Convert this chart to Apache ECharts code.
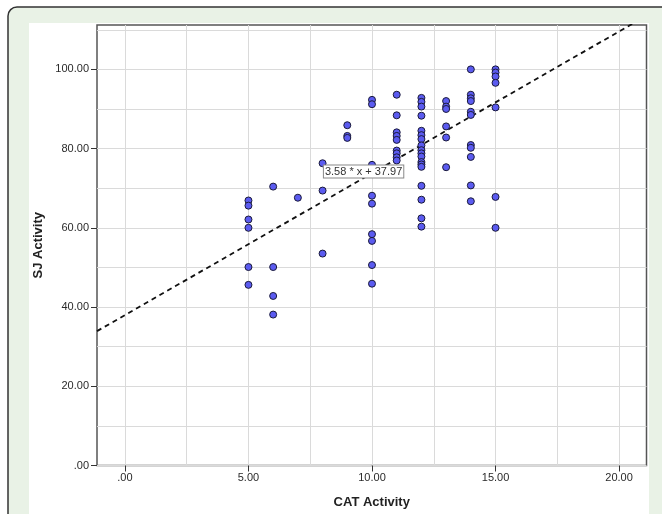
<!DOCTYPE html>
<html>
<head>
<meta charset="utf-8">
<script src="https://cdn.jsdelivr.net/npm/echarts@6/dist/echarts.min.js"></script>
<style>
html,body{margin:0;padding:0;background:#ffffff;}
#chart{width:662px;height:514px;}
</style>
</head>
<body>
<div id="chart"></div>
<script>
// ---- data ----
const catActivity = [
  5,5,5,5,5,5,
  6,6,6,6,
  7,
  8,8,8,
  9,9,9,
  10,10,10,10,10,10,10,10,10,
  11,11,11,11,11,11,11,11,11,
  12,12,12,12,12,12,12,12,12,12,12,12,12,12,12,12,12,12,
  13,13,13,13,13,13,
  14,14,14,14,14,14,14,14,14,14,14,
  15,15,15,15,15,15,15
];
const sjActivity = [
  66.9,65.6,62.1,60.0,50.1,45.6,
  70.4,50.1,42.8,38.1,
  67.6,
  76.3,69.4,53.5,
  85.9,83.2,82.7,
  92.3,91.2,75.9,68.1,66.1,58.4,56.7,50.6,45.9,
  93.6,88.4,84.1,83.2,82.2,79.5,78.8,77.8,77.0,
  92.8,91.8,90.6,88.3,84.5,83.4,82.4,80.8,79.6,78.8,78.0,76.6,76.0,75.4,70.6,67.1,62.4,60.3,
  92.0,90.6,90.0,85.6,82.8,75.3,
  100.0,93.6,92.7,92.0,89.3,88.5,80.9,80.2,77.9,70.7,66.7,
  100.0,99.2,98.2,96.6,90.4,67.8,60.0
];
// fit line end points (as drawn) and its label
const fitLineX = [-1.13, 21.09];
const fitLineY = [33.92, 113.47];
const fitLabel = '3.58 * x + 37.97';
const fitLabelAt = [9.66, 74.2];

// axes
const xRange = [-1.13, 21.11];
const yRange = [0, 111.2];
const xTickValues = [0, 5, 10, 15, 20];
const xGridValues = [0, 2.5, 5, 7.5, 10, 12.5, 15, 17.5, 20];
const yTickValues = [0, 20, 40, 60, 80, 100];
const yGridValues = [0, 10, 20, 30, 40, 50, 60, 70, 80, 90, 100, 110];
const xName = 'CAT Activity';
const yName = 'SJ Activity';

function fmt(v){
  const s = Number(v).toFixed(2);
  return s.indexOf('0.') === 0 ? s.slice(1) : s;
}

const points = catActivity.map((x, i) => [x, sjActivity[i]]);
const fitData = fitLineX.map((x, i) => [x, fitLineY[i]]);

const FONT = '"Liberation Sans", Arial, sans-serif';
const chart = echarts.init(document.getElementById('chart'), null, {renderer: 'canvas'});

chart.setOption({
  animation: false,
  backgroundColor: '#ffffff',
  graphic: [
    {type: 'rect', z: -100, silent: true,
     shape: {x: 8, y: 7, width: 700, height: 560, r: 9},
     style: {fill: '#e9f2e6', stroke: '#333333', lineWidth: 1.5}},
    {type: 'rect', z: -99, silent: true,
     shape: {x: 29, y: 23, width: 620, height: 520},
     style: {fill: '#ffffff'}}
  ],
  grid: {
    left: 97, top: 25, right: 15.5, bottom: 48.5,
    show: true, borderColor: '#555555', borderWidth: 1.5, backgroundColor: '#ffffff'
  },
  xAxis: [
    {
      type: 'value', position: 'bottom', min: xRange[0], max: xRange[1],
      axisLine: {show: false},
      axisTick: {show: false, customValues: xGridValues},
      axisLabel: {show: false, customValues: xGridValues},
      splitLine: {show: true, lineStyle: {color: '#dadada', width: 1}}
    },
    {
      type: 'value', position: 'bottom', offset: 0, min: xRange[0], max: xRange[1],
      axisLine: {show: false, onZero: false},
      axisTick: {show: true, length: 6, customValues: xTickValues, lineStyle: {color: '#333333'}},
      axisLabel: {show: true, customValues: xTickValues, formatter: fmt, margin: 7,
                  color: '#2a2a2a', fontSize: 11, fontFamily: FONT},
      splitLine: {show: false},
      name: xName, nameLocation: 'middle', nameGap: 30,
      nameTextStyle: {fontFamily: FONT, fontSize: 13, fontWeight: 'bold', color: '#222222'}
    }
  ],
  yAxis: [
    {
      type: 'value', position: 'left', min: yRange[0], max: yRange[1],
      axisLine: {show: false},
      axisTick: {show: false, customValues: yGridValues},
      axisLabel: {show: false, customValues: yGridValues},
      splitLine: {show: true, lineStyle: {color: '#dadada', width: 1}}
    },
    {
      type: 'value', position: 'left', offset: 0, min: yRange[0], max: yRange[1],
      axisLine: {show: false, onZero: false},
      axisTick: {show: true, length: 6, customValues: yTickValues, lineStyle: {color: '#333333'}},
      axisLabel: {show: true, customValues: yTickValues, formatter: fmt, margin: 8,
                  color: '#2a2a2a', fontSize: 11, fontFamily: FONT},
      splitLine: {show: false},
      name: yName, nameLocation: 'middle', nameGap: 45.5, nameRotate: 90,
      nameTextStyle: {fontFamily: FONT, fontSize: 13, fontWeight: 'bold', color: '#222222'}
    }
  ],
  series: [
    {
      type: 'line', xAxisIndex: 0, yAxisIndex: 0, data: fitData,
      symbol: 'none', clip: true, silent: true, z: 3,
      lineStyle: {color: '#111111', width: 1.8, type: [5, 4]},
      markPoint: {
        symbol: 'rect', symbolSize: 0, silent: true,
        data: [{coord: fitLabelAt}],
        label: {
          show: true, formatter: fitLabel, position: 'inside',
          fontFamily: FONT, fontSize: 11, color: '#333333',
          backgroundColor: '#ffffff', borderColor: '#888888', borderWidth: 1,
          padding: [1, 1, 0, 1]
        }
      }
    },
    {
      type: 'scatter', xAxisIndex: 0, yAxisIndex: 0, data: points,
      symbol: 'circle', symbolSize: 7, z: 4,
      itemStyle: {color: '#5b5bf0', borderColor: '#1a1a3a', borderWidth: 1, opacity: 1}
    }
  ]
});
</script>
</body>
</html>
